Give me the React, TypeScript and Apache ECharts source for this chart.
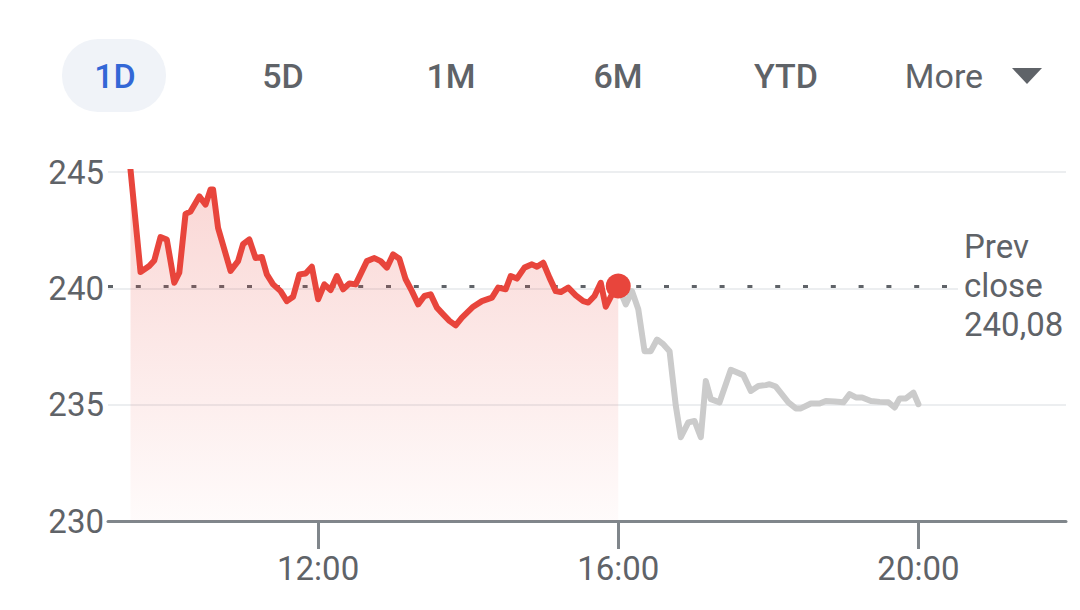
import React, { useEffect, useRef } from "react";
import * as echarts from "echarts";

const rangeTabs = ["1D", "5D", "1M", "6M", "YTD", "More"];
const yTicks = [230, 235, 240, 245];
const xTickLabels = ["12:00", "16:00", "20:00"];
const prevClose = 240.08;
const prevCloseLabel = "240,08";

const sessionTimes = [
  "9:30", "9:38", "9:45", "9:49", "9:54", "9:59", "10:05", "10:09", "10:14", "10:18",
  "10:25", "10:30", "10:34", "10:36", "10:40", "10:50", "10:56", "11:00", "11:05", "11:10",
  "11:15", "11:19", "11:24", "11:30", "11:35", "11:40", "11:45", "11:50", "11:55", "12:00",
  "12:05", "12:10", "12:15", "12:20", "12:25", "12:30", "12:39", "12:45", "12:50", "12:55",
  "13:00", "13:05", "13:10", "13:15", "13:20", "13:25", "13:30", "13:35", "13:40", "13:45",
  "13:50", "13:55", "14:04", "14:11", "14:19", "14:24", "14:30", "14:34", "14:39", "14:45",
  "14:51", "14:55", "15:00", "15:05", "15:10", "15:14", "15:20", "15:26", "15:32", "15:36",
  "15:41", "15:46", "15:50", "15:55", "16:00",
];
const sessionPrices = [
  245.1, 240.7, 240.96, 241.2, 242.2, 242.1, 240.24, 240.67, 243.2, 243.3,
  243.95, 243.6, 244.25, 244.25, 242.6, 240.75, 241.17, 241.9, 242.1, 241.3,
  241.35, 240.6, 240.17, 239.88, 239.45, 239.64, 240.6, 240.64, 240.93, 239.53,
  240.17, 239.93, 240.53, 239.96, 240.21, 240.17, 241.17, 241.3, 241.17, 240.89,
  241.46, 241.27, 240.39, 239.88, 239.31, 239.67, 239.74, 239.17, 238.88, 238.6,
  238.41, 238.74, 239.21, 239.45, 239.6, 240.03, 239.96, 240.53, 240.42, 240.89,
  241.03, 240.93, 241.1, 240.46, 239.88, 239.84, 240.03, 239.7, 239.45, 239.39,
  239.67, 240.24, 239.21, 239.74, 240.1,
];

const afterTimes = [
  "16:00", "16:06", "16:11", "16:16", "16:21", "16:26", "16:31", "16:36", "16:41", "16:46",
  "16:50", "16:56", "17:01", "17:06", "17:10", "17:14", "17:21", "17:30", "17:40", "17:46",
  "17:52", "17:58", "18:01", "18:06", "18:16", "18:22", "18:26", "18:34", "18:41", "18:46",
  "18:53", "19:00", "19:05", "19:10", "19:15", "19:22", "19:29", "19:36", "19:41", "19:45",
  "19:50", "19:56", "20:00",
];
const afterPrices = [
  240.1, 239.31, 239.88, 239.1, 237.3, 237.3, 237.8, 237.6, 237.3, 234.95,
  233.6, 234.24, 234.3, 233.6, 236.02, 235.24, 235.1, 236.5, 236.27, 235.59,
  235.8, 235.84, 235.88, 235.78, 235.1, 234.84, 234.84, 235.05, 235.05, 235.16,
  235.14, 235.1, 235.45, 235.31, 235.31, 235.16, 235.12, 235.1, 234.88, 235.27,
  235.27, 235.52, 235.02,
];

// x-range of the dotted previous-close line (clock times)
const prevCloseSpan = ["9:12", "20:25"];

const toMin = (t: string) => {
  const [h, m] = t.split(":").map(Number);
  return h * 60 + m;
};
const fmt = (v: number) => {
  const h = Math.floor(v / 60);
  const m = Math.round(v % 60);
  return `${h}:${m < 10 ? "0" + m : m}`;
};

const RED = "#e8453c";
const GRAY_TEXT = "#5f6368";
const FONT = "Roboto";

export default function App() {
  const ref = useRef<HTMLDivElement>(null);
  useEffect(() => {
    if (!ref.current) return;
    const chart = echarts.init(ref.current, undefined, { renderer: "svg" });
    const session = sessionTimes.map((t, i) => [toMin(t), sessionPrices[i]]);
    const after = afterTimes.map((t, i) => [toMin(t), afterPrices[i]]);
    const last = session[session.length - 1];
    const xTickValues = xTickLabels.map(toMin);
    const prevLine = prevCloseSpan.map((t) => [toMin(t), prevClose]);

    const tabX = [115, 283, 451, 618, 786, 944];
    const graphics: any[] = [
      {
        type: "rect",
        shape: { x: 62, y: 39, width: 104, height: 73, r: 36 },
        style: { fill: "#f0f3f8" },
        silent: true,
      },
      ...rangeTabs.map((t, i) => ({
        type: "text",
        x: tabX[i],
        y: 76,
        style: {
          text: t,
          fontFamily: FONT,
          fontSize: 34,
          fontWeight: i === rangeTabs.length - 1 ? 400 : 500,
          fill: i === 0 ? "#3367d6" : GRAY_TEXT,
          align: "center",
          verticalAlign: "middle",
        },
      })),
      {
        type: "polygon",
        shape: { points: [[1012, 68], [1042, 68], [1027, 84]] },
        style: { fill: GRAY_TEXT },
      },
      {
        type: "text",
        x: 958,
        y: 227,
        z: 100,
        style: {
          text: "Prev\nclose\n" + prevCloseLabel,
          fontFamily: FONT,
          fontSize: 33,
          lineHeight: 39,
          fill: GRAY_TEXT,
          backgroundColor: "#ffffff",
          padding: [0, 14, 0, 6],
          align: "left",
          verticalAlign: "top",
        },
      },
    ];

    chart.setOption({
      animation: false,
      backgroundColor: "#ffffff",
      grid: { left: 108, right: 14, top: 172, bottom: 89 },
      xAxis: {
        type: "value",
        min: 552,
        max: 1318,
        axisLine: { show: true, lineStyle: { color: "#80868b", width: 3 } },
        axisTick: {
          show: true,
          customValues: xTickValues,
          length: 28,
          lineStyle: { color: "#80868b", width: 3 },
        },
        axisLabel: {
          customValues: xTickValues,
          formatter: (v: number) => fmt(v),
          fontFamily: FONT,
          fontSize: 33,
          color: GRAY_TEXT,
          margin: 31,
        },
        splitLine: { show: false },
      },
      yAxis: {
        type: "value",
        min: 230,
        max: 245,
        interval: 5,
        axisLine: { show: false },
        axisTick: { show: false },
        axisLabel: {
          formatter: (v: number) => (yTicks.includes(v) ? String(v) : ""),
          fontFamily: FONT,
          fontSize: 33,
          color: GRAY_TEXT,
          margin: 4,
        },
        splitLine: { show: true, lineStyle: { color: "#eceef0", width: 2 } },
      },
      graphic: graphics,
      series: [
        {
          type: "line",
          data: prevLine,
          showSymbol: false,
          symbol: "none",
          silent: true,
          lineStyle: { color: "#5f6368", width: 3, type: [5, 22.8] },
          z: 1,
        },
        {
          type: "line",
          data: after,
          showSymbol: false,
          symbol: "none",
          lineStyle: { color: "#cbcbcb", width: 6, cap: "round", join: "round" },
          z: 2,
        },
        {
          type: "line",
          data: session,
          showSymbol: false,
          symbol: "none",
          lineStyle: { color: RED, width: 6, cap: "round", join: "round" },
          areaStyle: {
            color: new echarts.graphic.LinearGradient(0, 0, 0, 1, [
              { offset: 0, color: "rgba(232,69,60,0.32)" },
              { offset: 1, color: "rgba(232,69,60,0.03)" },
            ]),
          },
          z: 3,
        },
        {
          type: "scatter",
          data: [last],
          symbol: "circle",
          symbolSize: 25,
          itemStyle: { color: RED, opacity: 1 },
          z: 5,
        },
      ],
    });
    return () => chart.dispose();
  }, []);
  return (
    <div
      ref={ref}
      style={{ position: "fixed", left: 0, top: 0, width: 1080, height: 610, background: "#fff" }}
    />
  );
}
